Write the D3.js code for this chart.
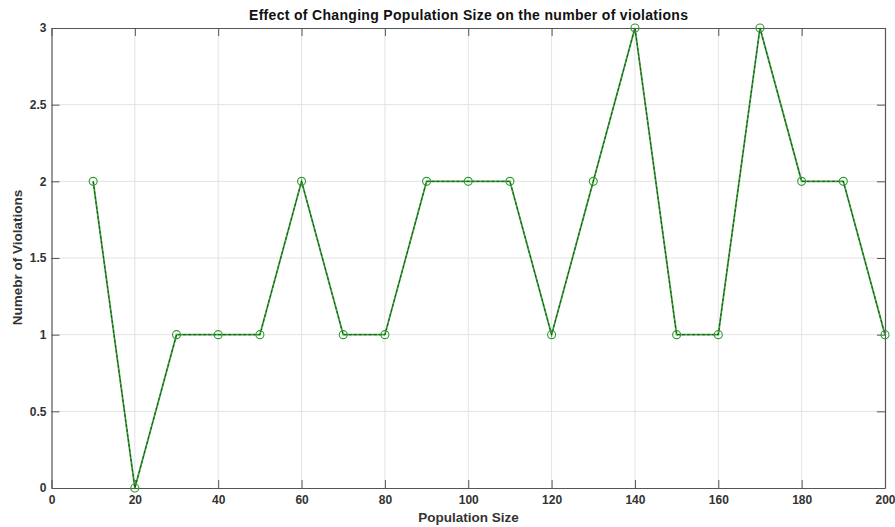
<!DOCTYPE html>
<html>
<head>
<meta charset="utf-8">
<script src="https://cdn.jsdelivr.net/npm/d3@7"></script>
<style>
  body { margin: 0; background: #fff; }
  svg { display: block; }
  text { font-family: "Liberation Sans", Arial, Helvetica, sans-serif; }
</style>
</head>
<body>
<svg id="chart" width="895" height="527"></svg>
<script>
// Population sizes and resulting number of violations
const populationSizes = [10, 20, 30, 40, 50, 60, 70, 80, 90, 100, 110, 120, 130, 140, 150, 160, 170, 180, 190, 200];
const violations = [2, 0, 1, 1, 1, 2, 1, 1, 2, 2, 2, 1, 2, 3, 1, 1, 3, 2, 2, 1];
const xTickValues = [0, 20, 40, 60, 80, 100, 120, 140, 160, 180, 200];
const yTickValues = [0, 0.5, 1, 1.5, 2, 2.5, 3];

const svg = d3.select("#chart");
const margin = { left: 51.5, right: 10, top: 28, bottom: 39 };
const W = 895, H = 527;
const x = d3.scaleLinear().domain([0, 200]).range([margin.left, W - margin.right]);
const y = d3.scaleLinear().domain([0, 3]).range([H - margin.bottom, margin.top]);

const axisColor = "#555";
const tickLen = 8;

// grid
const grid = svg.append("g");
grid.selectAll(".gx").data(xTickValues.slice(1, -1)).join("line")
  .attr("x1", d => x(d)).attr("x2", d => x(d))
  .attr("y1", y(0)).attr("y2", y(3))
  .attr("stroke", "#e3e3e3").attr("stroke-width", 1);
grid.selectAll(".gy").data(yTickValues.slice(1, -1)).join("line")
  .attr("x1", x(0)).attr("x2", x(200))
  .attr("y1", d => y(d)).attr("y2", d => y(d))
  .attr("stroke", "#e3e3e3").attr("stroke-width", 1);

// axes (inward ticks on all four sides)
const fmt = d => d3.format("~g")(d);
const axBottom = svg.append("g").attr("transform", `translate(0,${y(0)})`)
  .call(d3.axisBottom(x).tickValues(xTickValues).tickFormat(fmt).tickSizeInner(-tickLen).tickSizeOuter(0).tickPadding(7));
const axTop = svg.append("g").attr("transform", `translate(0,${y(3)})`)
  .call(d3.axisTop(x).tickValues(xTickValues).tickFormat("").tickSizeInner(-tickLen).tickSizeOuter(0));
const axLeft = svg.append("g").attr("transform", `translate(${x(0)},0)`)
  .call(d3.axisLeft(y).tickValues(yTickValues).tickFormat(fmt).tickSizeInner(-tickLen).tickSizeOuter(0).tickPadding(5));
const axRight = svg.append("g").attr("transform", `translate(${x(200)},0)`)
  .call(d3.axisRight(y).tickValues(yTickValues).tickFormat("").tickSizeInner(-tickLen).tickSizeOuter(0));

[axBottom, axTop, axLeft, axRight].forEach(g => {
  g.select(".domain").attr("stroke", axisColor).attr("stroke-width", 1.2);
  g.selectAll(".tick line").attr("stroke", axisColor).attr("stroke-width", 1);
  g.selectAll(".tick text").attr("fill", "#333").attr("font-size", 12).attr("font-weight", "bold");
});

// data line: green with a dark dashed overlay, open circle markers
const line = d3.line().x((d, i) => x(populationSizes[i])).y(d => y(d));
svg.append("path").datum(violations)
  .attr("d", line).attr("fill", "none")
  .attr("stroke", "#3aa63a").attr("stroke-width", 1.8);
svg.append("path").datum(violations)
  .attr("d", line).attr("fill", "none")
  .attr("stroke", "#1f4d1f").attr("stroke-width", 1).attr("stroke-dasharray", "3,2");
svg.append("g").selectAll("circle").data(violations).join("circle")
  .attr("cx", (d, i) => x(populationSizes[i])).attr("cy", d => y(d))
  .attr("r", 4).attr("fill", "none")
  .attr("stroke", "#2e9a2e").attr("stroke-width", 1.1);

// titles
svg.append("text").attr("x", 468.5).attr("y", 20).attr("text-anchor", "middle")
  .attr("font-size", 14).attr("font-weight", "bold").attr("fill", "#111")
  .attr("textLength", 439).attr("lengthAdjust", "spacing")
  .text("Effect of Changing Population Size on the number of violations");
svg.append("text").attr("x", 468.5).attr("y", 522).attr("text-anchor", "middle")
  .attr("font-size", 13.5).attr("font-weight", "bold").attr("fill", "#333")
  .text("Population Size");
svg.append("text").attr("transform", `translate(22,257.5) rotate(-90)`)
  .attr("text-anchor", "middle")
  .attr("font-size", 13.5).attr("font-weight", "bold").attr("fill", "#333")
  .text("Numebr of Violations");
</script>
</body>
</html>
